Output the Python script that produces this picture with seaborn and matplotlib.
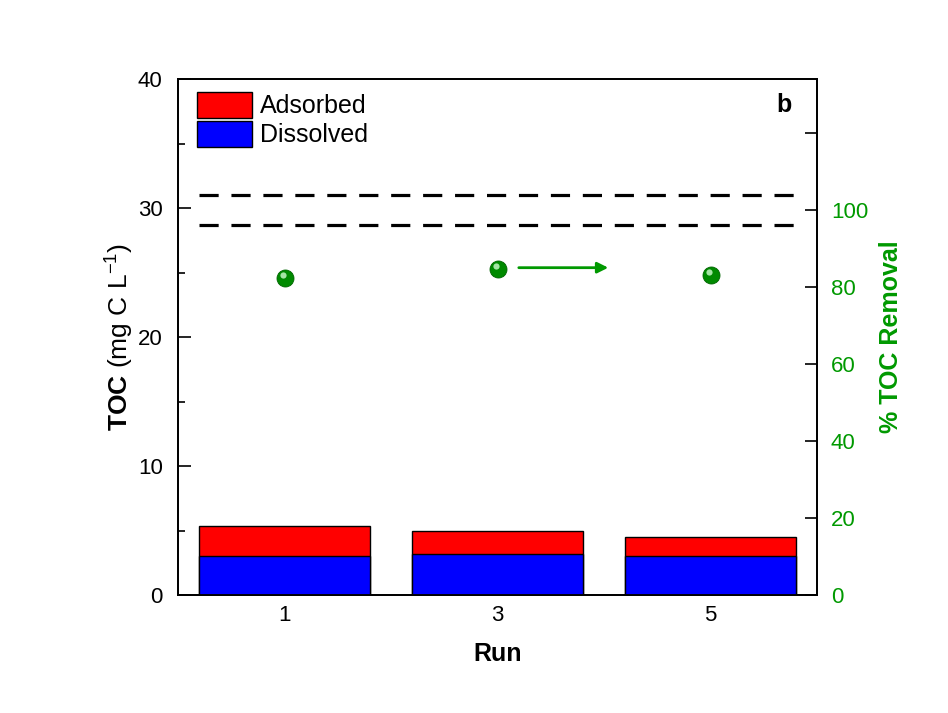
import numpy as np
import pandas as pd
import matplotlib
matplotlib.use("Agg")
import matplotlib.pyplot as plt
import matplotlib.transforms as mtransforms
from matplotlib.patches import Patch
from matplotlib.ticker import MultipleLocator, FixedLocator
import seaborn as sns

# ---- data ----
runs = [1, 3, 5]
dissolved = [3.02, 3.15, 3.02]
adsorbed_total = [5.35, 4.94, 4.52]   # dissolved + adsorbed (top of stacked bar)
removal_pct = [82.4, 84.6, 83.1]
initial_toc_levels = [31.0, 28.7]
legend_labels = ["Adsorbed", "Dissolved"]

GREEN = "#009900"

sns.set_theme(style="white")
plt.rcParams["font.family"] = ["Liberation Sans", "DejaVu Sans"]
plt.rcParams["mathtext.fontset"] = "custom"
plt.rcParams["mathtext.rm"] = "Liberation Sans"
plt.rcParams["mathtext.bf"] = "Liberation Sans:bold"
for k in ["text.color", "axes.labelcolor", "xtick.color", "ytick.color"]:
    plt.rcParams[k] = "black"

df = pd.DataFrame({"run": runs, "dissolved": dissolved,
                   "total": adsorbed_total, "removal": removal_pct})

fig = plt.figure(figsize=(9.48, 7.13), dpi=100)
ax = fig.add_axes([178/948, 1-595/713, (817-178)/948, (595-79)/713])

sns.barplot(data=df, x="run", y="total", native_scale=True, color="#ff0000",
            saturation=1, edgecolor="black", linewidth=1, ax=ax, zorder=2)
sns.barplot(data=df, x="run", y="dissolved", native_scale=True, color="#0000ff",
            saturation=1, edgecolor="black", linewidth=1, ax=ax, zorder=3)

for lvl in initial_toc_levels:
    ax.hlines(lvl, 0.2, 5.8, colors="black", linewidth=2.3,
              linestyles=(0, (6, 4)), zorder=4)

ax.set_xlim(0, 6)
ax.set_ylim(0, 40)
ax.xaxis.set_major_locator(FixedLocator(runs))
ax.set_xticklabels([str(r) for r in runs])
ax.yaxis.set_major_locator(MultipleLocator(10))
ax.yaxis.set_minor_locator(MultipleLocator(5))
ax.tick_params(axis="x", length=0, labelsize=16, pad=7, colors="black")
ax.tick_params(axis="y", which="major", direction="in", length=9, width=1.2,
               labelsize=16, pad=11, left=True, colors="black")
ax.tick_params(axis="y", which="minor", direction="in", length=5, width=1.2, left=True)
ax.set_xlabel("Run", fontsize=18, fontweight="bold", labelpad=12)
ax.set_ylabel(r"$\mathbf{TOC}$ (mg C L$^{-1}$)", fontsize=19, labelpad=2)
for s in ax.spines.values():
    s.set_color("black")
    s.set_linewidth(1.3)

# twin axis for % removal
ax2 = ax.twinx()
sns.scatterplot(data=df, x="run", y="removal", ax=ax2, color="#008a00",
                s=150, edgecolor="#006400", linewidth=0.6, zorder=5, legend=False)
hl = mtransforms.offset_copy(ax2.transData, fig=fig, x=-2, y=3, units="dots")
ax2.scatter(df["run"], df["removal"], s=20, color="#b8f0b8", alpha=0.9,
            linewidths=0, transform=hl, zorder=6)
ax2.set_ylim(0, 134)
ax2.set_xlim(0, 6)
ax2.yaxis.set_major_locator(FixedLocator([0, 20, 40, 60, 80, 100, 120]))
ax2.set_yticklabels(["0", "20", "40", "60", "80", "100", ""])
ax2.tick_params(axis="y", direction="in", length=9, width=1.2, labelsize=16,
                pad=10, right=True, labelcolor=GREEN, color="black")
ax2.set_ylabel("% TOC Removal", fontsize=18, fontweight="bold", color=GREEN,
               labelpad=8)
ax2.set_xlabel("")
for s in ax2.spines.values():
    s.set_color("black")
    s.set_linewidth(1.3)

ax2.annotate("", xy=(4.04, 85.0), xytext=(3.2, 85.0),
             arrowprops=dict(arrowstyle="-|>", color=GREEN, lw=2,
                             mutation_scale=16, shrinkA=0, shrinkB=0))

handles = [Patch(facecolor="#ff0000", edgecolor="black", linewidth=1),
           Patch(facecolor="#0000ff", edgecolor="black", linewidth=1)]
ax2.legend(handles, legend_labels, loc="upper left",
           bbox_to_anchor=(0.03, 0.975), frameon=False, fontsize=18,
           borderpad=0, borderaxespad=0, handlelength=2.2, handleheight=1.2,
           handletextpad=0.3, labelspacing=0.12)

ax2.text(0.948, 0.95, "b", transform=ax2.transAxes, fontsize=18,
         fontweight="bold", ha="center", va="center")

fig.savefig("out.png", dpi=100, facecolor="white")
